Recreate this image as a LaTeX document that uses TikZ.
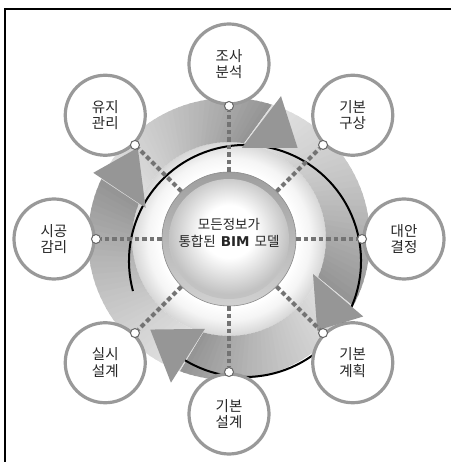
\documentclass[tikz,border=0pt]{standalone}
\usepackage{fontspec}
\newfontfamily\kr{Noto Sans CJK KR}
\newfontfamily\bimf{DejaVu Sans}
\pgfdeclareradialshading{halo}{\pgfpoint{0bp}{0bp}}{color(0bp)=(white); color(17.5bp)=(white); color(21bp)=(black!4); color(25bp)=(black!16); color(50bp)=(black!16)}
\pgfdeclareradialshading{sph}{\pgfpoint{0bp}{4bp}}{color(0bp)=(white); color(11bp)=(white); color(25bp)=(black!24); color(50bp)=(black!24)}
\newcommand\arrowshaft[4]{%
 \foreach \i in {0,...,35}{%
  \pgfmathsetmacro\oa{(#1)+((#3)-(#1))*\i/36}%
  \pgfmathsetmacro\ob{(#1)+((#3)-(#1))*min(\i+1.4,36)/36}%
  \pgfmathsetmacro\ia{(#2)+((#4)-(#2))*\i/36}%
  \pgfmathsetmacro\ib{(#2)+((#4)-(#2))*min(\i+1.4,36)/36}%
  \pgfmathsetmacro\cc{12+30*((\i+0.5)/36)^1.3}%
  \fill[black!\cc] (\oa:141) arc[start angle=\oa, end angle=\ob, radius=141] -- (\ib:97) arc[start angle=\ib, end angle=\ia, radius=97] -- cycle;
 }}
\begin{document}
\begin{tikzpicture}[x=1pt,y=1pt,
  sat/.style={circle, minimum size=80pt, inner sep=0pt, fill=white, draw=black!40, line width=3.2pt, align=center, font=\kr\fontsize{14.5}{16.5}\selectfont, text=black!85},
  dotc/.style={circle, minimum size=9pt, inner sep=0pt, fill=white, draw=black!60, line width=1pt},
  link/.style={draw=black!55, line width=4pt, dash pattern=on 4.5pt off 3pt},
  head/.style={fill=black!41}]
\useasboundingbox (-229,-223) rectangle (222,239);
\fill[white] (-229,-223) rectangle (222,239);
\draw[line width=1.5pt] (222,230) -- (-224,230) -- (-224,-223);
% inner halo
\shade[shading=halo] (0,0) circle (97);
% arrow shafts
\arrowshaft{154.9}{158.8}{72.2}{81}
\arrowshaft{72.2}{81}{-28.4}{-23.3}
\arrowshaft{-28.4}{-23.3}{-110.4}{-105.5}
\arrowshaft{-110.4}{-105.5}{-205.1}{-201.2}
% shadow edge
\draw[line width=2pt] ([shift={(16,-22)}]195:116) arc[start angle=195, end angle=-122, radius=116];
% arrow heads
\fill[head] (70:152) -- (53:114) -- (82:92) -- cycle;
\fill[head] (-30:155) -- (-46:127) -- (-22.6:91) -- cycle;
\fill[head] (-112:155) -- (-131:120) -- (-105:93) -- cycle;
\fill[head] (154:151) -- (135:129) -- (159.5:89) -- cycle;
% centre
\node[circle, minimum size=134pt, inner sep=0pt, top color=black!38, bottom color=black!18, draw=black!45, line width=0.6pt] (c) at (0,0) {};
\shade[shading=sph] (0,0) circle (60);
\node[align=center, font=\kr\fontsize{13.5}{16.5}\selectfont, text=black!85] (ct) at (0,6) {모든정보가\\통합된\hspace{5pt}{\bimf\bfseries BIM}\hspace{5pt}모델};
% satellites
\node[sat] (s1) at (90:175) {조사\\분석};
\node[sat] (s2) at (45:175) {기본\\구상};
\node[sat] (s3) at (0:175) {대안\\결정};
\node[sat] (s4) at (-45:175) {기본\\계획};
\node[sat] (s5) at (-90:175) {기본\\설계};
\node[sat] (s6) at (-135:175) {실시\\설계};
\node[sat] (s7) at (180:175) {시공\\감리};
\node[sat] (s8) at (135:175) {유지\\관리};
% dots
\node[dotc] (d1) at (90:133) {};
\node[dotc] (d2) at (45:133) {};
\node[dotc] (d3) at (0:133) {};
\node[dotc] (d4) at (-45:133) {};
\node[dotc] (d5) at (-90:133) {};
\node[dotc] (d6) at (-135:133) {};
\node[dotc] (d7) at (180:133) {};
\node[dotc] (d8) at (135:133) {};
% links
\foreach \k in {1,...,8} \draw[link] (c) -- (d\k);
\end{tikzpicture}
\end{document}
